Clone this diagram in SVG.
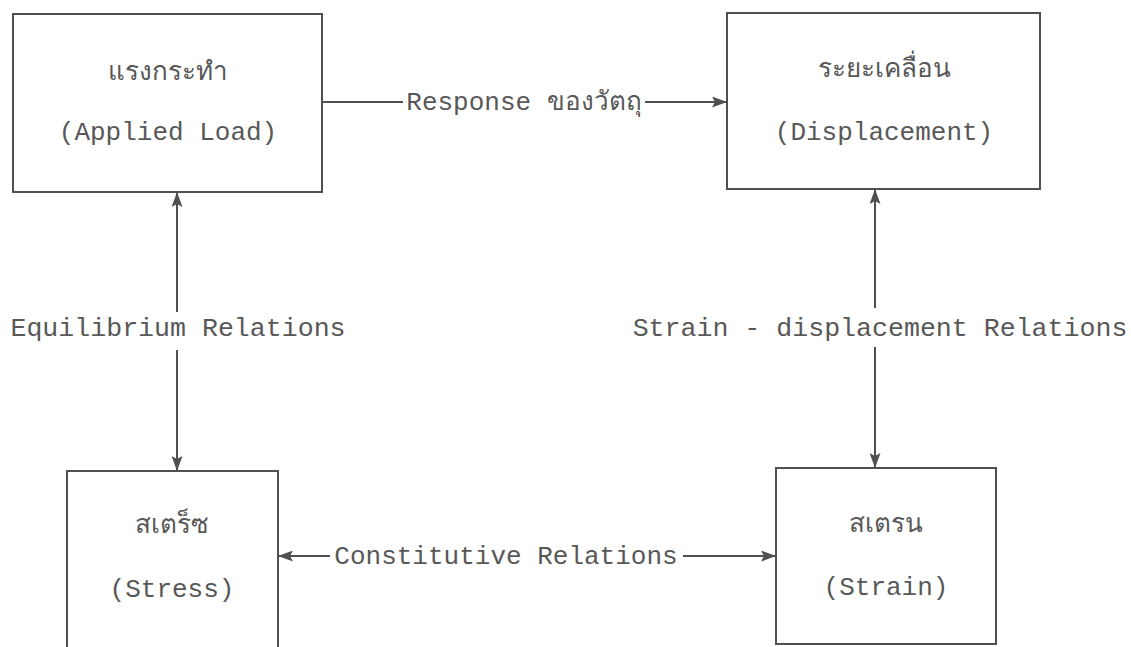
<svg xmlns="http://www.w3.org/2000/svg" width="1131" height="647" viewBox="0 0 1131 647">
  <style>
    .box { fill: none; stroke: #505050; stroke-width: 2; }
    .lbl { font-family: "Liberation Mono", "DejaVu Sans Mono", "Noto Sans", monospace; font-size: 26px; fill: #585858; text-anchor: middle; }
    .wide { font-size: 26.6px; }
    .edge { stroke: #505050; stroke-width: 2; fill: none; }
  </style>
  <defs>
    <marker id="arrow" viewBox="0 0 15 11" refX="15" refY="5.5" markerWidth="15" markerHeight="11" markerUnits="userSpaceOnUse" orient="auto-start-reverse">
      <path d="M0,0 L15,5.5 L0,11 L3,5.5 Z" fill="#505050"/>
    </marker>
  </defs>
  <rect width="1131" height="647" fill="#fff"/>

  <g id="node-load">
    <rect class="box" x="13" y="14" width="309" height="178"/>
    <text class="lbl" x="168" y="80">แรงกระทำ</text>
    <text class="lbl" x="168" y="140">(Applied Load)</text>
  </g>
  <g id="node-displacement">
    <rect class="box" x="727" y="13" width="313" height="176"/>
    <text class="lbl" x="884" y="77">ระยะเคลื่อน</text>
    <text class="lbl" x="884" y="140">(Displacement)</text>
  </g>
  <g id="node-stress">
    <rect class="box" x="67" y="471" width="211" height="190"/>
    <text class="lbl" x="172" y="533">สเตร็ซ</text>
    <text class="lbl" x="172" y="597">(Stress)</text>
  </g>
  <g id="node-strain">
    <rect class="box" x="776" y="468" width="220" height="176"/>
    <text class="lbl" x="886" y="532">สเตรน</text>
    <text class="lbl" x="886" y="595">(Strain)</text>
  </g>

  <g id="connectors">
    <!-- load -> displacement -->
    <line class="edge" x1="322" y1="102" x2="403" y2="102"/>
    <line class="edge" x1="645" y1="102" x2="727" y2="102" marker-end="url(#arrow)"/>
    <text class="lbl" x="524" y="110">Response ของวัตถุ</text>
    <!-- load <-> stress -->
    <line class="edge" x1="177" y1="192" x2="177" y2="312" marker-start="url(#arrow)"/>
    <line class="edge" x1="177" y1="350" x2="177" y2="471" marker-end="url(#arrow)"/>
    <text class="lbl wide" x="178" y="336">Equilibrium Relations</text>
    <!-- displacement <-> strain -->
    <line class="edge" x1="875" y1="189" x2="875" y2="308" marker-start="url(#arrow)"/>
    <line class="edge" x1="875" y1="347" x2="875" y2="468" marker-end="url(#arrow)"/>
    <text class="lbl wide" x="880" y="336">Strain - displacement Relations</text>
    <!-- stress <-> strain -->
    <line class="edge" x1="278" y1="556" x2="330" y2="556" marker-start="url(#arrow)"/>
    <line class="edge" x1="683" y1="556" x2="776" y2="556" marker-end="url(#arrow)"/>
    <text class="lbl" x="506" y="564">Constitutive Relations</text>
  </g>
</svg>
